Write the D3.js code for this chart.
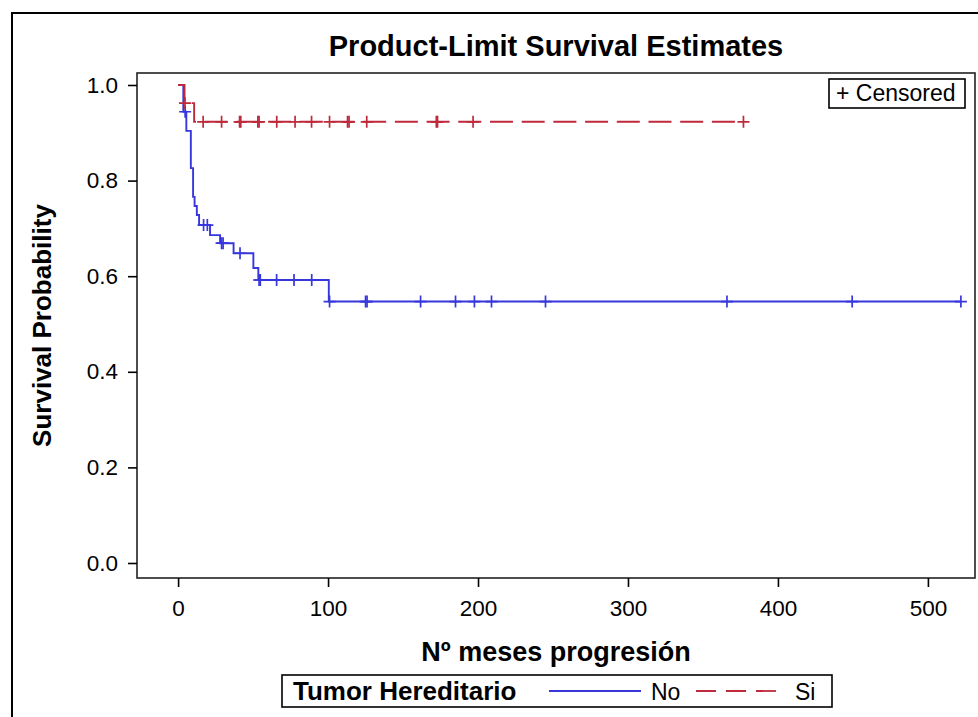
<!DOCTYPE html>
<html><head><meta charset="utf-8">
<script src="https://cdn.jsdelivr.net/npm/d3@7"></script>
<style>
body{margin:0;background:#fff}
text{font-family:"Liberation Sans",Arial,sans-serif;fill:#000}
</style>
</head><body>
<svg id="c" width="978" height="717"></svg>
<script>
// ---- data ----
const groups = ["No", "Si"];
const xTicks = [0, 100, 200, 300, 400, 500];
const yTicks = [0.0, 0.2, 0.4, 0.6, 0.8, 1.0];

// group "No" (blue): step times and survival after each step
const noStepTimes = [0, 3.5, 5.5, 8.5, 10, 11, 12.5, 14, 21.3, 28, 37, 50.2, 53.5, 100.5];
const noStepSurv  = [1.0, 0.944, 0.904, 0.826, 0.766, 0.747, 0.728, 0.707, 0.686, 0.669, 0.648, 0.617, 0.592, 0.547];
const noEndTime = 522;
const noCensorTimes = [4.7, 17, 19.5, 29, 30, 41.3, 54, 54.8, 65.7, 77.3, 89.1, 101, 125, 126, 161.7, 185, 197.6, 209, 245, 366, 449.5, 522];

// group "Si" (red)
const siStepTimes = [0, 4.3, 10.7];
const siStepSurv  = [1.0, 0.962, 0.923];
const siEndTime = 377;
const siCensorTimes = [4.6, 16.7, 29, 41, 41.8, 53.2, 54, 65.8, 78, 89, 101, 113, 114, 125.8, 172.2, 173, 196.7, 377];

// ---- chart ----
const svg = d3.select("#c");
const L = 137, R = 975, T = 73, B = 578;
const x = d3.scaleLinear().domain([-27.4, 531.4]).range([L, R]);
const y = d3.scaleLinear().domain([-0.0314, 1.0251]).range([B, T]);
const blue = "#3737DC", red = "#BE2A3C";

// outer border
svg.append("rect").attr("x", 12).attr("y", 13).attr("width", 990).attr("height", 720)
  .attr("fill", "none").attr("stroke", "#000").attr("stroke-width", 2);

function survAt(times, surv, t) {
  let s = surv[0];
  for (let i = 0; i < times.length; i++) if (times[i] <= t) s = surv[i];
  return s;
}
function pts(times, surv, end) {
  const p = times.map((t, i) => [t, surv[i]]);
  p.push([end, surv[surv.length - 1]]);
  return p;
}
const line = d3.line().x(d => x(d[0])).y(d => y(d[1])).curve(d3.curveStepAfter);

const series = [
  {name: groups[0], color: blue, dash: null, p: pts(noStepTimes, noStepSurv, noEndTime),
   c: noCensorTimes.map(t => [t, survAt(noStepTimes, noStepSurv, t)])},
  {name: groups[1], color: red, dash: "23,8.7", p: pts(siStepTimes, siStepSurv, siEndTime),
   c: siCensorTimes.map(t => [t, survAt(siStepTimes, siStepSurv, t)])}
];

const g = svg.append("g");
series.forEach(s => {
  g.append("path").attr("d", line(s.p)).attr("fill", "none")
    .attr("stroke", s.color).attr("stroke-width", 1.9)
    .attr("stroke-dasharray", s.dash);
  g.selectAll(null).data(s.c).enter().append("path")
    .attr("transform", d => `translate(${x(d[0])},${y(d[1])})`)
    .attr("d", "M-6,0H6M0,-6V6").attr("stroke", s.color).attr("stroke-width", 1.7).attr("fill", "none");
});

// frame
svg.append("rect").attr("x", L).attr("y", T).attr("width", R - L).attr("height", B - T)
  .attr("fill", "none").attr("stroke", "#222").attr("stroke-width", 1.6);

// axes
const ax = svg.append("g").attr("transform", `translate(0,${B})`)
  .call(d3.axisBottom(x).tickValues(xTicks).tickSize(9).tickPadding(13).tickFormat(d3.format("d")));
const ay = svg.append("g").attr("transform", `translate(${L},0)`)
  .call(d3.axisLeft(y).tickValues(yTicks).tickSize(9).tickPadding(10).tickFormat(d3.format(".1f")));
[ax, ay].forEach(a => {
  a.select(".domain").remove();
  a.selectAll(".tick line").attr("stroke", "#000").attr("stroke-width", 1.6);
  a.selectAll(".tick text").style("font-size", "22.5px").attr("font-family", null);
});

// titles
svg.append("text").attr("x", (L + R) / 2).attr("y", 56).attr("text-anchor", "middle")
  .style("font-size", "29px").style("font-weight", "bold").text("Product-Limit Survival Estimates");
svg.append("text").attr("x", (L + R) / 2).attr("y", 661).attr("text-anchor", "middle")
  .style("font-size", "27px").style("font-weight", "bold").text("Nº meses progresión");
svg.append("text").attr("transform", `translate(51,${(T + B) / 2}) rotate(-90)`).attr("text-anchor", "middle")
  .style("font-size", "26px").style("font-weight", "bold").text("Survival Probability");

// censored legend
svg.append("rect").attr("x", 829).attr("y", 79).attr("width", 136).attr("height", 29)
  .attr("fill", "#fff").attr("stroke", "#000").attr("stroke-width", 1.6);
svg.append("text").attr("x", 836).attr("y", 101).style("font-size", "23px").text("+ Censored");

// group legend
const lg = svg.append("g");
lg.append("rect").attr("x", 282).attr("y", 675).attr("width", 550).attr("height", 32)
  .attr("fill", "#fff").attr("stroke", "#000").attr("stroke-width", 1.6);
lg.append("text").attr("x", 293).attr("y", 700).style("font-size", "26px").style("font-weight", "bold").text("Tumor Hereditario");
lg.append("line").attr("x1", 549).attr("x2", 641).attr("y1", 691).attr("y2", 691)
  .attr("stroke", blue).attr("stroke-width", 1.8);
lg.append("text").attr("x", 651).attr("y", 700).style("font-size", "23px").text(groups[0]);
lg.append("line").attr("x1", 696).attr("x2", 786).attr("y1", 691).attr("y2", 691)
  .attr("stroke", red).attr("stroke-width", 1.8).attr("stroke-dasharray", "20,10");
lg.append("text").attr("x", 795).attr("y", 700).style("font-size", "23px").text(groups[1]);
</script>
</body></html>
